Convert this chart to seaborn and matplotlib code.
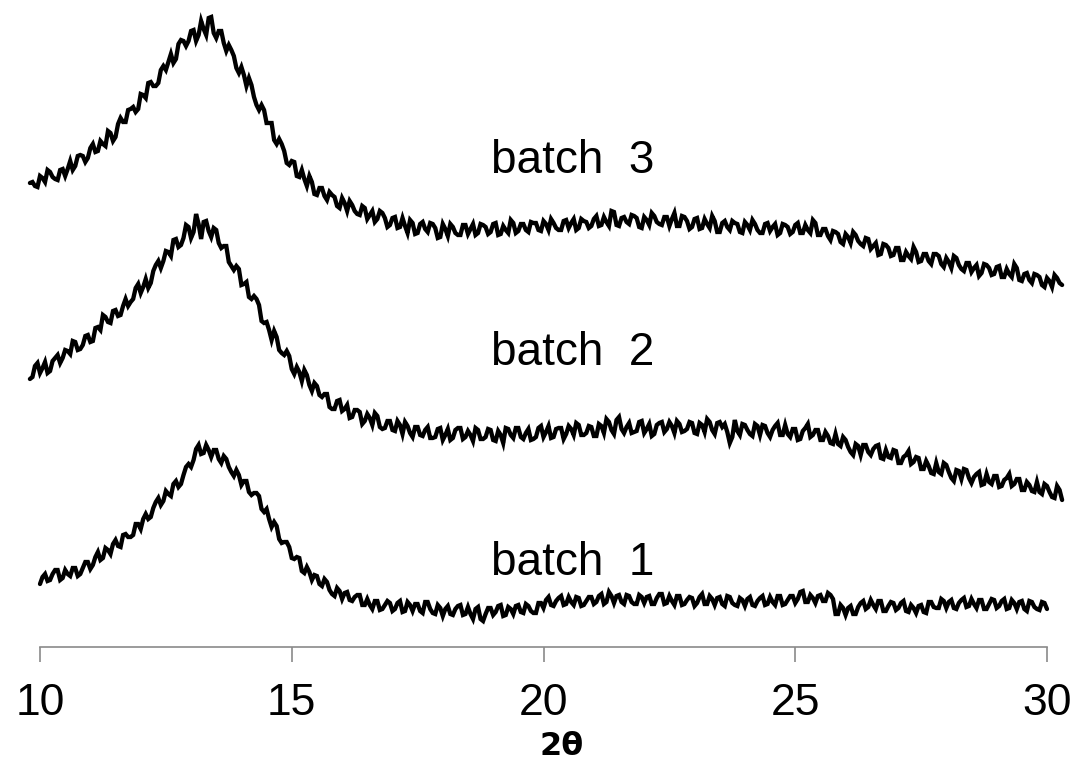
import numpy as np
import pandas as pd
import matplotlib
matplotlib.use("Agg")
import matplotlib.pyplot as plt
import seaborn as sns

# ---- XRD scans (intensity, a.u., stacked with vertical offsets) ----
SCAN_STEP = 0.05         # 2θ step of each scan
BATCH1_START = 10.0      # first 2θ of each scan
BATCH2_START = 9.8
BATCH3_START = 9.8

batch1_intensity = [
    63, 70, 73, 66, 67, 73, 77, 77, 67, 69, 77, 73, 71, 79, 79, 71, 73, 79, 85, 85,
    78, 82, 90, 95, 87, 89, 99, 97, 93, 103, 107, 101, 100, 112, 113, 110, 110, 112, 123, 123,
    118, 128, 133, 128, 130, 139, 145, 149, 142, 146, 156, 153, 151, 163, 166, 160, 163, 172, 180, 183,
    180, 187, 198, 202, 193, 194, 202, 197, 190, 197, 197, 188, 184, 191, 188, 180, 175, 171, 177, 172,
    162, 166, 166, 155, 152, 154, 154, 151, 138, 135, 138, 128, 120, 125, 121, 108, 104, 105, 105, 100,
    89, 88, 90, 89, 76, 74, 80, 75, 67, 72, 71, 63, 61, 68, 65, 57, 53, 51, 59, 56,
    48, 54, 55, 47, 46, 50, 52, 52, 42, 42, 48, 42, 38, 46, 46, 37, 38, 42, 46, 44,
    36, 38, 44, 46, 35, 36, 45, 42, 36, 43, 43, 36, 34, 45, 45, 38, 34, 33, 42, 39,
    31, 38, 41, 33, 32, 38, 41, 42, 32, 33, 40, 33, 28, 38, 40, 28, 26, 33, 39, 39,
    32, 35, 41, 42, 31, 32, 40, 38, 33, 41, 42, 35, 34, 43, 41, 36, 34, 34, 44, 44,
    39, 47, 50, 42, 41, 46, 49, 51, 42, 43, 50, 45, 42, 50, 49, 41, 42, 46, 50, 50,
    43, 45, 51, 53, 43, 45, 55, 51, 44, 51, 52, 45, 43, 52, 51, 45, 43, 43, 52, 50,
    44, 50, 51, 43, 43, 49, 53, 53, 43, 44, 51, 46, 42, 51, 51, 42, 43, 47, 50, 49,
    41, 44, 50, 53, 43, 43, 51, 48, 42, 49, 50, 43, 41, 51, 50, 44, 42, 41, 49, 47,
    41, 48, 50, 42, 41, 46, 49, 51, 42, 43, 50, 45, 42, 51, 51, 42, 43, 47, 51, 51,
    44, 48, 55, 56, 45, 45, 52, 49, 44, 51, 52, 46, 46, 54, 52, 48, 33, 33, 42, 39,
    32, 39, 41, 33, 33, 40, 44, 46, 38, 40, 47, 42, 38, 46, 46, 36, 36, 41, 45, 44,
    37, 39, 44, 46, 36, 35, 42, 39, 34, 41, 42, 35, 34, 45, 45, 40, 39, 39, 48, 46,
    39, 45, 47, 39, 38, 44, 47, 49, 40, 41, 48, 43, 39, 47, 47, 38, 38, 43, 48, 47,
    39, 41, 46, 48, 38, 39, 47, 44, 38, 45, 46, 38, 36, 46, 45, 40, 38, 37, 45, 44,
    38,
]

batch2_intensity = [
    268, 270, 281, 284, 274, 279, 285, 274, 276, 286, 289, 292, 284, 289, 297, 296, 293, 306, 305, 297,
    298, 302, 311, 312, 305, 306, 319, 320, 317, 332, 330, 325, 324, 336, 337, 331, 332, 341, 348, 341,
    345, 348, 359, 363, 354, 360, 368, 359, 364, 376, 382, 386, 379, 386, 396, 395, 391, 407, 408, 400,
    402, 409, 422, 420, 409, 415, 433, 423, 408, 425, 426, 416, 410, 419, 417, 404, 399, 401, 401, 385,
    381, 377, 381, 378, 362, 363, 365, 350, 348, 351, 348, 342, 326, 324, 325, 317, 307, 316, 310, 297,
    294, 292, 296, 291, 278, 273, 280, 275, 266, 277, 272, 262, 256, 264, 261, 252, 250, 253, 253, 240,
    238, 238, 246, 247, 236, 238, 242, 229, 230, 237, 237, 235, 223, 226, 233, 229, 222, 234, 231, 220,
    218, 219, 226, 226, 217, 216, 226, 222, 213, 225, 221, 214, 210, 220, 220, 212, 211, 217, 220, 209,
    209, 210, 218, 219, 207, 212, 218, 207, 209, 217, 219, 219, 208, 210, 216, 212, 206, 219, 217, 208,
    208, 210, 218, 217, 207, 206, 216, 212, 204, 219, 218, 212, 209, 219, 219, 210, 208, 214, 218, 207,
    208, 210, 219, 221, 210, 215, 221, 209, 210, 218, 219, 219, 208, 213, 221, 218, 212, 224, 222, 212,
    212, 214, 221, 220, 211, 211, 223, 221, 214, 228, 225, 217, 213, 227, 230, 218, 214, 220, 224, 214,
    215, 216, 225, 226, 214, 218, 223, 211, 213, 222, 224, 225, 215, 218, 225, 221, 214, 226, 223, 215,
    216, 218, 225, 224, 214, 213, 224, 222, 215, 228, 225, 217, 213, 224, 225, 220, 223, 215, 204, 210,
    227, 216, 212, 223, 222, 217, 213, 211, 223, 221, 212, 222, 221, 214, 210, 217, 221, 224, 212, 212,
    222, 213, 210, 218, 218, 207, 208, 216, 219, 223, 210, 212, 217, 217, 207, 207, 215, 211, 204, 203,
    213, 203, 201, 210, 207, 200, 195, 192, 203, 201, 192, 202, 202, 195, 192, 198, 201, 202, 189, 188,
    197, 190, 189, 197, 196, 184, 184, 190, 192, 196, 183, 185, 190, 189, 178, 178, 186, 181, 174, 173,
    184, 175, 173, 184, 182, 175, 169, 166, 177, 176, 168, 178, 177, 169, 164, 170, 173, 175, 162, 163,
    173, 165, 163, 171, 171, 160, 161, 167, 169, 173, 161, 163, 168, 168, 157, 157, 165, 162, 156, 155,
    165, 155, 153, 163, 161, 155, 150, 149, 161, 157, 147,
]

batch3_intensity = [
    464, 465, 461, 460, 471, 469, 465, 477, 475, 470, 468, 467, 477, 478, 471, 478, 486, 477, 481, 491,
    492, 491, 485, 489, 499, 503, 495, 496, 506, 503, 501, 516, 514, 506, 510, 523, 529, 525, 525, 537,
    538, 540, 535, 538, 553, 552, 549, 564, 565, 561, 561, 564, 577, 581, 577, 585, 593, 584, 588, 603,
    607, 606, 601, 606, 616, 617, 606, 612, 626, 618, 612, 629, 630, 614, 609, 616, 616, 604, 596, 602,
    597, 591, 579, 574, 580, 572, 561, 569, 562, 550, 542, 537, 542, 537, 524, 524, 524, 507, 503, 508,
    503, 496, 484, 482, 486, 485, 471, 470, 477, 468, 461, 471, 465, 453, 452, 459, 459, 451, 447, 455,
    452, 450, 441, 439, 449, 444, 436, 446, 442, 436, 433, 432, 441, 439, 428, 432, 436, 425, 428, 436,
    434, 429, 420, 422, 429, 430, 419, 420, 429, 421, 414, 427, 424, 413, 414, 423, 425, 418, 415, 424,
    423, 419, 409, 410, 423, 418, 411, 423, 420, 414, 412, 412, 422, 422, 413, 418, 423, 412, 414, 423,
    422, 420, 413, 415, 423, 424, 412, 413, 421, 417, 414, 427, 424, 414, 416, 423, 423, 417, 415, 425,
    424, 424, 417, 416, 426, 423, 417, 428, 424, 419, 417, 417, 426, 427, 419, 424, 428, 417, 419, 428,
    426, 425, 419, 421, 428, 431, 421, 422, 430, 425, 421, 436, 435, 422, 421, 429, 430, 425, 423, 432,
    431, 429, 420, 419, 430, 427, 422, 434, 431, 425, 423, 422, 430, 430, 421, 428, 434, 421, 421, 431,
    430, 426, 418, 420, 428, 429, 418, 419, 428, 423, 419, 431, 426, 415, 415, 424, 426, 420, 417, 426,
    424, 423, 415, 414, 425, 422, 417, 427, 423, 417, 414, 414, 423, 424, 416, 420, 423, 412, 414, 423,
    422, 420, 413, 415, 422, 424, 414, 414, 422, 417, 414, 427, 424, 412, 412, 418, 418, 411, 407, 416,
    415, 413, 405, 403, 413, 410, 404, 415, 412, 406, 403, 401, 409, 408, 398, 401, 404, 392, 393, 403,
    402, 399, 391, 392, 399, 399, 387, 387, 395, 391, 388, 400, 395, 385, 386, 393, 393, 386, 383, 393,
    393, 391, 383, 380, 389, 385, 379, 391, 389, 382, 378, 376, 384, 384, 375, 379, 382, 371, 374, 383,
    382, 379, 372, 373, 380, 381, 370, 370, 378, 373, 370, 383, 379, 367, 366, 373, 374, 367, 364, 373,
    372, 370, 362, 360, 369, 366, 360, 372, 369, 364, 362,
]

sample_names = ["batch 1", "batch 2", "batch 3"]
sample_labels = ["batch  1", "batch  2", "batch  3"]
x_ticks = [10, 15, 20, 25, 30]
x_label = "2θ"

# ---- style ----
sns.set_style("white")
plt.rcParams["font.family"] = ["Liberation Sans", "DejaVu Sans"]

W, H = 1087, 766
fig = plt.figure(figsize=(W / 100, H / 100), dpi=100)

axis_px = 647                      # height of the plotting band above the axis line
x10_px, x30_px = 40, 1047          # horizontal span of the 10–30 axis
px_per_deg = (x30_px - x10_px) / 20.0

ax = fig.add_axes([0, (H - axis_px) / H, 1, axis_px / H])
ax.set_xlim(10 - x10_px / px_per_deg, 30 + (W - x30_px) / px_per_deg)
ax.set_ylim(0, axis_px)

# ---- long-form table of all scans ----
frames = []
for name, start, vals in zip(
    sample_names,
    [BATCH1_START, BATCH2_START, BATCH3_START],
    [batch1_intensity, batch2_intensity, batch3_intensity],
):
    two_theta = np.round(start + SCAN_STEP * np.arange(len(vals)), 3)
    frames.append(pd.DataFrame({"2θ": two_theta, "intensity": vals, "sample": name}))
df = pd.concat(frames, ignore_index=True)

sns.lineplot(
    data=df, x="2θ", y="intensity", hue="sample",
    palette=["black"] * 3, estimator=None, sort=False,
    legend=False, linewidth=3.1, ax=ax,
)
for line in ax.get_lines():
    line.set_solid_joinstyle("miter")

# ---- sample labels ----
label_center = 10 + (573 - x10_px) / px_per_deg
label_baselines = [axis_px - 575, axis_px - 365, axis_px - 173]
for text, yb in zip(sample_labels, label_baselines):
    ax.text(label_center, yb, text, ha="center", va="baseline",
            fontsize=33, color="black")

# ---- axes styling ----
sns.despine(ax=ax, left=True)
ax.spines["bottom"].set_bounds(10, 30)
ax.spines["bottom"].set_color("#8a8a8a")
ax.spines["bottom"].set_linewidth(1.2)
ax.set_yticks([])
ax.set_ylabel("")
ax.set_xticks(x_ticks)
ax.set_xticklabels([str(t) for t in x_ticks])
ax.tick_params(axis="x", which="major", bottom=True, direction="out",
               length=11, width=1.2, color="#8a8a8a", pad=15,
               labelsize=32, labelcolor="black")
ax.set_xlabel(x_label, fontsize=23, fontweight="bold", color="black",
              family=["DejaVu Sans"])
ax.xaxis.set_label_coords(562 / W, (axis_px - 731) / axis_px)

fig.savefig("out.png", dpi=100)
